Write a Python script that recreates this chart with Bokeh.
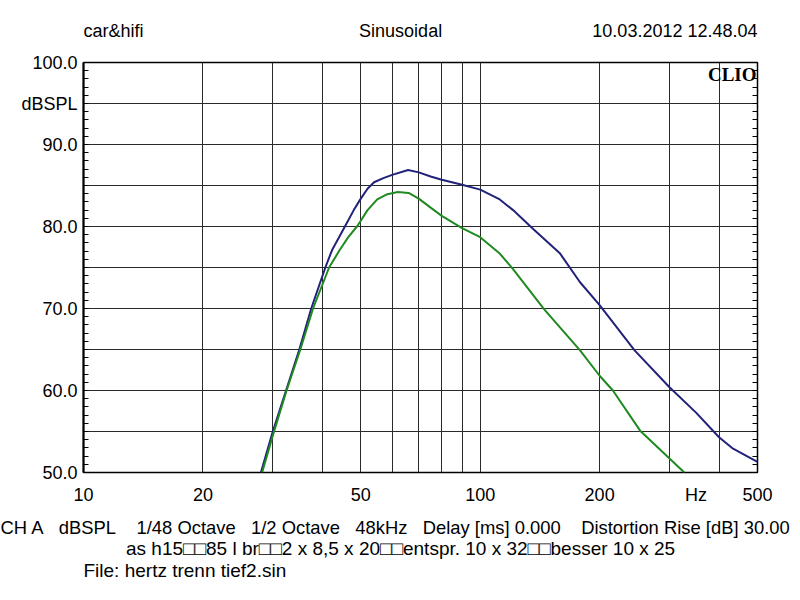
from bokeh.plotting import figure
from bokeh.models import FixedTicker, LinearAxis, Label, Range1d
from bokeh.embed import file_html
from bokeh.resources import INLINE

# ---- data ----
blue_f = [28.0, 30.0, 32.4, 35.0, 37.5, 40.7, 42.3, 45.6, 48.0, 50.0, 52.0, 54.0, 57.0, 60.0, 65.8, 70.0,
          75.0, 80.0, 90.0, 100.0, 112.0, 121.0, 136.0, 159.0, 178.5, 200.0, 245.0, 300.0,
          350.0, 400.0, 434.0, 470.0, 500.0]
blue_db = [50.0, 55.0, 60.0, 65.0, 70.0, 75.0, 77.1, 80.0, 82.0, 83.4, 84.6, 85.4, 85.9, 86.3, 86.9, 86.6,
           86.1, 85.7, 85.1, 84.5, 83.3, 82.0, 79.7, 76.7, 73.2, 70.4, 64.9, 60.4,
           57.3, 54.3, 52.9, 52.0, 51.3]

green_f = [28.2, 30.0, 32.5, 35.2, 37.9, 41.6, 44.2, 46.5, 48.9, 50.0, 52.0, 55.0, 58.0, 62.0, 66.0, 70.0,
           75.0, 80.0, 90.0, 100.0, 112.0, 121.0, 145.0, 178.5, 200.0, 216.0, 253.0, 300.0, 327.0]
green_db = [50.0, 54.5, 60.0, 65.0, 70.0, 75.0, 77.1, 78.7, 80.0, 80.7, 82.0, 83.3, 83.9, 84.2, 84.1, 83.4,
            82.3, 81.3, 79.8, 78.7, 76.7, 74.8, 69.9, 64.9, 61.8, 60.0, 55.1, 51.7, 50.0]

y_ticks = [50, 60, 70, 80, 90, 95, 100]
y_tick_labels = ["50.0", "60.0", "70.0", "80.0", "90.0", "dBSPL", "100.0"]
x_ticks = [10, 20, 50, 100, 200, 350, 500]
x_tick_labels = ["10", "20", "50", "100", "200", "Hz", "500"]
x_grid = [20, 30, 40, 50, 60, 70, 80, 90, 100, 200, 300, 400]
y_grid = [55, 60, 65, 70, 75, 80, 85, 90, 95]
y_minor = list(range(50, 101))

NB = "\u00a0"
header_left = "car&hifi"
header_mid = "Sinusoidal"
header_right = "10.03.2012 12.48.04"
footer1 = (f"CH A{NB*3}dBSPL{NB*4}1/48 Octave{NB*3}1/2 Octave{NB*3}48kHz{NB*3}"
           f"Delay [ms] 0.000{NB*4}Distortion Rise [dB] 30.00")
footer2 = "as h15\u25a1\u25a185 l br\u25a1\u25a12 x 8,5 x 20\u25a1\u25a1entspr. 10 x 32\u25a1\u25a1besser 10 x 25"
footer3 = "File: hertz trenn tief2.sin"

FONT = "Liberation Sans"
FS = "18px"
FS_HEAD = "18px"
FS_FOOT = "19px"
FS_FOOT1 = "18.4px"

p = figure(width=800, height=600, x_axis_type="log",
           x_range=Range1d(10, 500), y_range=Range1d(50, 100),
           output_backend="svg", toolbar_location=None,
           min_border_left=83, min_border_right=43, min_border_top=62, min_border_bottom=128)
p.background_fill_color = "white"
p.border_fill_color = "white"
p.outline_line_color = "black"
p.outline_line_width = 1.5

p.xgrid.ticker = FixedTicker(ticks=x_grid)
p.ygrid.ticker = FixedTicker(ticks=y_grid)
for g in (p.xgrid, p.ygrid):
    g.grid_line_color = "#2a2a2a"
    g.grid_line_alpha = 1.0
    g.grid_line_width = 1

xa = p.xaxis[0]
xa.ticker = FixedTicker(ticks=x_ticks)
xa.major_label_overrides = {t: l for t, l in zip(x_ticks, x_tick_labels)}
xa.axis_line_color = None
xa.major_tick_in = 0
xa.major_tick_out = 0
xa.minor_tick_in = 0
xa.minor_tick_out = 0
xa.major_label_standoff = 12
xa.major_label_text_font = FONT
xa.major_label_text_font_size = FS
xa.major_label_text_color = "black"

ya = p.yaxis[0]
ya.ticker = FixedTicker(ticks=y_ticks, minor_ticks=y_minor)
ya.major_label_overrides = {t: l for t, l in zip(y_ticks, y_tick_labels)}
ya.axis_line_width = 2
ya.axis_line_color = "black"
ya.major_tick_in = 0
ya.major_tick_out = 0
ya.minor_tick_in = 5
ya.minor_tick_out = 0
ya.minor_tick_line_color = "black"
ya.major_label_standoff = 6
ya.major_label_text_font = FONT
ya.major_label_text_font_size = FS
ya.major_label_text_color = "black"

ra = LinearAxis(ticker=FixedTicker(ticks=[], minor_ticks=y_minor),
                major_label_text_font_size="0px", axis_line_color=None,
                major_tick_in=0, major_tick_out=0, minor_tick_in=5, minor_tick_out=0,
                minor_tick_line_color="black")
p.add_layout(ra, "right")

p.line(blue_f, blue_db, line_color="#22227a", line_width=2)
p.line(green_f, green_db, line_color="#1f8a1f", line_width=2)


def lab(x, y, text, align, place, size, baseline="middle", **kw):
    p.add_layout(Label(x=x, y=y, text=text, text_align=align, text_baseline=baseline,
                       text_font=kw.pop("font", FONT), text_font_size=size,
                       text_color="black", **kw), place)


# header / footer anchored in data units, placed in the side panels
lab(10, 103.9, header_left, "left", "above", FS_HEAD)
lab(63.0, 103.9, header_mid, "center", "above", FS_HEAD)
lab(500, 103.9, header_right, "right", "above", FS_HEAD)
lab(6.18, 43.3, footer1, "left", "below", FS_FOOT1)
lab(63.0, 40.7, footer2, "center", "below", FS_FOOT)
lab(10, 38.05, footer3, "left", "below", FS_FOOT)
lab(500, 98.5, "CLIO", "right", "center", "19px", baseline="alphabetic", font="Liberation Serif",
    text_font_style="bold", x_offset=-1)

open("out.html", "w").write(file_html(p, INLINE))
